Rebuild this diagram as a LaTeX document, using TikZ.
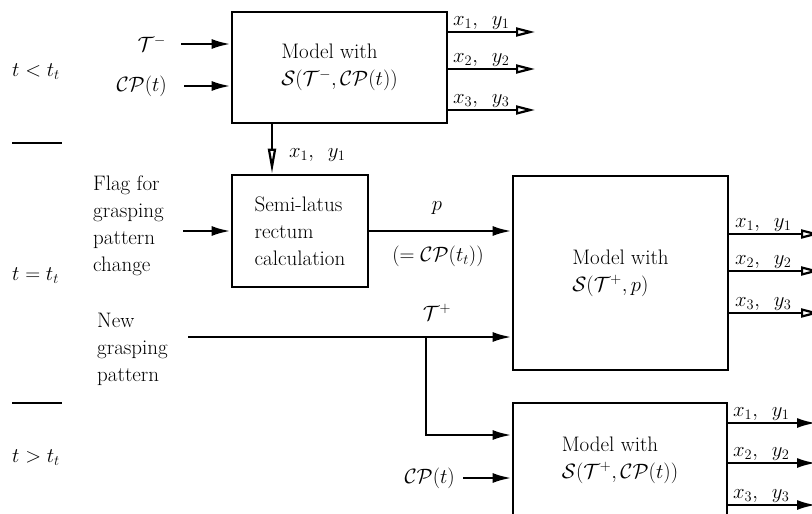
\documentclass[tikz,border=0pt]{standalone}
\usepackage{fontspec}
\usetikzlibrary{arrows.meta}
\begin{document}
\begin{tikzpicture}[x=1pt,y=-1pt,
  font=\fontsize{21}{27}\selectfont,
  box/.style={draw,line width=2.8pt,align=left,inner sep=0pt},
  wire/.style={line width=2.6pt},
  fa/.style={wire,-{Latex[length=19pt,width=10pt]}},
  oa/.style={wire,-{Triangle[open,length=19pt,width=9pt,line width=2.2pt]}},
  oad/.style={wire,-{Triangle[open,length=25pt,width=8pt,line width=2.2pt]}},
  lbl/.style={inner sep=2pt},
  sep/.style={line width=1.6pt}]
\useasboundingbox (0,0) rectangle (812,514);
% boxes
\node[box,minimum width=215pt,minimum height=111pt] (m1) at (339.5,67.5) {Model with\\$\mathcal{S}(\mathcal{T}^-,\mathcal{CP}(t))$};
\node[box,minimum width=136pt,minimum height=112pt] (sl) at (300,231) {Semi-latus\\rectum\\calculation};
\node[box,minimum width=215pt,minimum height=194pt] (m2) at (620.5,273) {Model with\\$\mathcal{S}(\mathcal{T}^+,p)$};
\node[box,minimum width=214pt,minimum height=114pt] (m3) at (620,460) {Model with\\$\mathcal{S}(\mathcal{T}^+,\mathcal{CP}(t))$};
% left labels
\node[lbl,anchor=west] (tl) at (10,72) {$t<t_t$};
\node[lbl,anchor=west] (te) at (10,276) {$t=t_t$};
\node[lbl,anchor=west] (tg) at (10,458) {$t>t_t$};
\coordinate (s1a) at (12,143); \coordinate (s1b) at (62,143);
\coordinate (s2a) at (12,403); \coordinate (s2b) at (62,403);
\draw[sep] (s1a) -- (s1b);
\draw[sep] (s2a) -- (s2b);
% top inputs
\node[lbl,anchor=east] (tm) at (168,44) {$\mathcal{T}^-$};
\node[lbl,anchor=east] (cp1) at (169,86) {$\mathcal{CP}(t)$};
\draw[fa,shorten <=13pt] (tm.east) -- (tm.east -| m1.west);
\draw[fa,shorten <=15pt] (cp1.east) -- (cp1.east -| m1.west);
% top outputs
\coordinate (o11) at (535,32); \coordinate (o12) at (535,69); \coordinate (o13) at (535,110);
\draw[oa] (m1.east |- o11) -- (o11);
\draw[oa] (m1.east |- o12) -- (o12);
\draw[oa] (m1.east |- o13) -- (o13);
\node[lbl,anchor=base west] (l11) at (451,25) {$x_1,\enspace y_1$};
\node[lbl,anchor=base west] (l12) at (451,62) {$x_2,\enspace y_2$};
\node[lbl,anchor=base west] (l13) at (451,103) {$x_3,\enspace y_3$};
% down arrow
\coordinate (dx) at (272,0);
\draw[oad] (m1.south -| dx) -- (sl.north -| dx);
\node[lbl,anchor=base west] (ld) at (287,157) {$x_1,\enspace y_1$};
% flag
\node[lbl,anchor=west,align=left] (flag) at (91,226) {Flag for\\grasping\\pattern\\change};
\coordinate (fs) at (183,231);
\draw[fa] (fs) -- (sl.west);
% p
\draw[fa] (sl.east) -- (sl.east -| m2.west);
\node[lbl,anchor=base] (pl) at (437,210) {$p$};
\node[lbl,anchor=base] (pe) at (438,261) {$(=\mathcal{CP}(t_t))$};
% new grasping pattern
\node[lbl,anchor=west,align=left] (ng) at (95,349) {New\\grasping\\pattern};
\coordinate (ns) at (188,337);
\coordinate (br) at (426,337);
\coordinate (b3) at (426,435);
\draw[fa] (ns) -- (ns -| m2.west);
\node[lbl,anchor=base] (tp) at (437,320) {$\mathcal{T}^+$};
\draw[fa] (br) -- (b3) -- (b3 -| m3.west);
% middle outputs
\coordinate (o21) at (820,234); \coordinate (o22) at (820,271); \coordinate (o23) at (820,313);
\draw[oa] (m2.east |- o21) -- (o21);
\draw[oa] (m2.east |- o22) -- (o22);
\draw[oa] (m2.east |- o23) -- (o23);
\node[lbl,anchor=base west] (l21) at (733,227) {$x_1,\enspace y_1$};
\node[lbl,anchor=base west] (l22) at (733,264) {$x_2,\enspace y_2$};
\node[lbl,anchor=base west] (l23) at (733,306) {$x_3,\enspace y_3$};
% bottom
\node[lbl,anchor=east] (cp3) at (457,478) {$\mathcal{CP}(t)$};
\draw[fa,shorten <=6pt] (cp3.east) -- (cp3.east -| m3.west);
\coordinate (o31) at (816,423); \coordinate (o32) at (816,463); \coordinate (o33) at (816,505);
\draw[fa] (m3.east |- o31) -- (o31);
\draw[fa] (m3.east |- o32) -- (o32);
\draw[fa] (m3.east |- o33) -- (o33);
\node[lbl,anchor=base west] (l31) at (731,416) {$x_1,\enspace y_1$};
\node[lbl,anchor=base west] (l32) at (731,456) {$x_2,\enspace y_2$};
\node[lbl,anchor=base west] (l33) at (731,498) {$x_3,\enspace y_3$};
\end{tikzpicture}
\end{document}
